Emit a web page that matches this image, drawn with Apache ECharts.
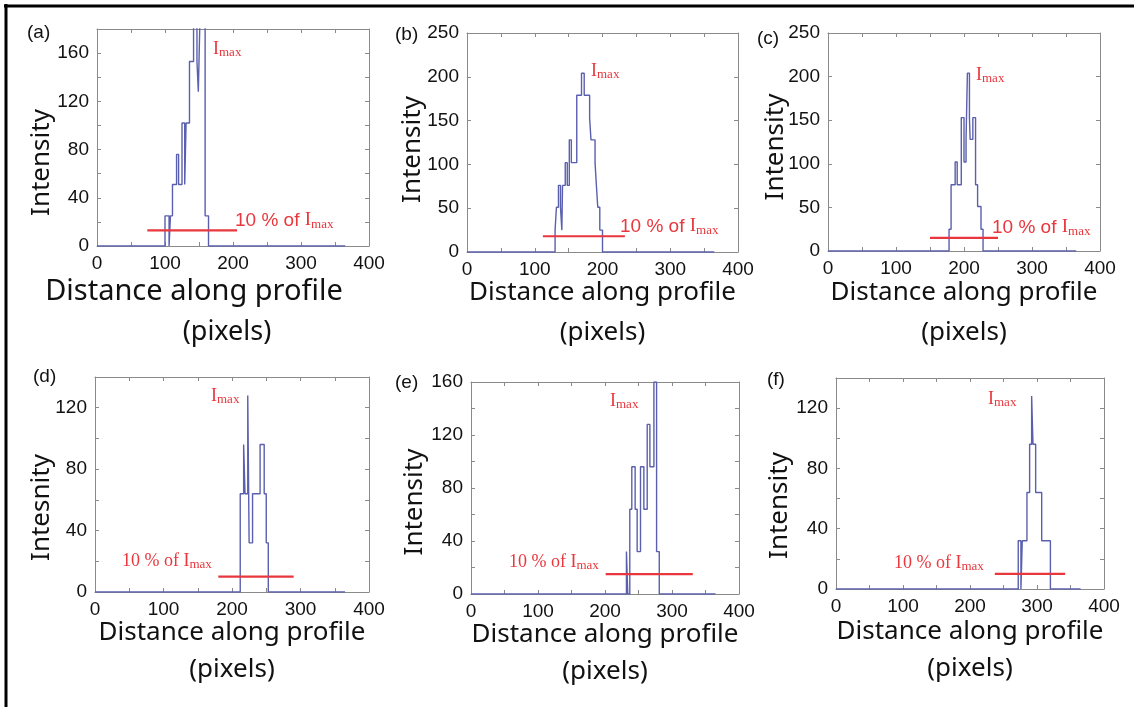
<!DOCTYPE html>
<html lang="en">
<head>
<meta charset="UTF-8">
<title>Intensity profiles</title>
<script src="https://cdn.jsdelivr.net/npm/echarts@6/dist/echarts.min.js"></script>
<style>html,body{margin:0;padding:0;background:#fff}</style>
</head>
<body>
<div id="main" style="width:1134px;height:707px"></div>
<script>
// step profiles, [distance, intensity] corner points
var profileA = [[0,0],[100,0],[100,25],[106,25],[106,0],[108,0],[108,25],[111,25],[111,51],[117,51],[117,76],[120,76],[120,51],[125,51],[125,102],[129,102],[129,51],[131,51],[131,102],[136,102],[136,153],[142,153],[142,204],[147,204],[147,153],[149,153],[149,128],[150,128],[150,153],[152,153],[152,204],[159,204],[159,25],[164,25],[164,0],[365,0]];
var profileB = [[0,0],[130,0],[130,25],[132,25],[132,51],[135,51],[135,76],[138,76],[138,51],[140,51],[140,25],[141,25],[141,76],[145,76],[145,102],[148,102],[148,76],[151,76],[151,128],[154,128],[154,102],[162,102],[162,179],[169,179],[169,204],[173,204],[173,179],[181,179],[181,153],[183,153],[183,128],[189,128],[189,102],[191,102],[191,76],[193,76],[193,51],[196,51],[196,25],[200,25],[200,0],[365,0]];
var profileC = [[0,0],[178,0],[178,25],[181,25],[181,76],[187,76],[187,102],[190,102],[190,76],[196,76],[196,153],[200,153],[200,102],[203,102],[203,128],[205,128],[205,204],[208,204],[208,153],[209,153],[209,128],[213,128],[213,153],[217,153],[217,76],[220,76],[220,51],[225,51],[225,25],[228,25],[228,0],[365,0]];
var profileD = [[0,0],[212,0],[212,64],[217,64],[217,96],[219,96],[219,64],[223,64],[223,128],[225,128],[225,32],[230,32],[230,64],[241,64],[241,96],[247,96],[247,64],[250,64],[250,32],[253,32],[253,0],[365,0]];
var profileE = [[0,0],[232,0],[232,32],[234,32],[234,0],[237,0],[237,64],[240,64],[240,96],[245,96],[245,64],[248,64],[248,32],[253,32],[253,96],[258,96],[258,64],[263,64],[263,128],[267,128],[267,96],[273,96],[273,160],[277,160],[277,32],[281,32],[281,0],[365,0]];
var profileF = [[0,0],[272,0],[272,32],[276,32],[276,0],[278,0],[278,32],[285,32],[285,64],[289,64],[289,96],[292,96],[292,128],[294,128],[294,96],[298,96],[298,64],[307,64],[307,32],[320,32],[320,0],[365,0]];

// red "10 % of Imax" lines
var cutA = [[74,13],[206,13]];
var cutB = [[112,18],[233,18]];
var cutC = [[150,15],[250,15]];
var cutD = [[180,10],[290,10]];
var cutE = [[201,15],[331,15]];
var cutF = [[237,10],[342,10]];

var yMaxList = [180, 250, 250, 140, 160, 140];
var yTickStep = [20, 50, 50, 20, 20, 20];
var yLabelStep = [40, 50, 50, 40, 40, 40];
var xMax = 400, xTickStep = 50, xLabelStep = 100;
var yNames = ['Intensity', 'Intensity', 'Intensity', 'Intesnity', 'Intensity', 'Intensity'];
var xName = 'Distance along profile';
var xUnit = '(pixels)';
var panelTags = ['(a)', '(b)', '(c)', '(d)', '(e)', '(f)'];

var profiles = [profileA, profileB, profileC, profileD, profileE, profileF];
var cuts = [cutA, cutB, cutC, cutD, cutE, cutF];

var chart = echarts.init(document.getElementById('main'));

var grids = [
    {left: 97, top: 29, width: 272, height: 217},
    {left: 467, top: 33, width: 271, height: 219},
    {left: 828, top: 33, width: 272, height: 218},
    {left: 95, top: 377, width: 274, height: 215},
    {left: 471, top: 382, width: 268, height: 212},
    {left: 836, top: 378, width: 268, height: 211}
];
// per panel: y name gap / shift, x name gap and line height
var yNameGap = [42, 41, 39, 40, 43, 43];
var yNameShift = [50, 14, 10, 46, 28, 44];
var xNameGap = [26, 21, 22, 22, 22, 24];
var xNameLine = [40, 40, 40, 37, 37, 37];

var axisGrey = '#8a8a8a';
var blue = '#5a5fae';
var red = '#e8373d';

var xAxes = [], yAxes = [], series = [];
grids.forEach(function (g, i) {
    var big = i === 0;
    xAxes.push({
        type: 'value', gridIndex: i, min: 0, max: xMax, interval: xTickStep, position: 'bottom',
        axisLine: {onZero: false, lineStyle: {color: axisGrey, width: 1}},
        axisTick: {inside: true, length: 4, lineStyle: {color: axisGrey}},
        axisLabel: {
            margin: 8, color: '#111', fontFamily: 'Liberation Sans', fontSize: 19,
            formatter: function (v) { return v % xLabelStep === 0 ? String(v) : ''; }
        },
        splitLine: {show: false},
        name: big ? '{l1|' + xName + '}\n{l2|' + xUnit + '}' : xName + '\n' + xUnit,
        nameLocation: 'middle', nameGap: xNameGap[i], nameMoveOverlap: false,
        nameTextStyle: big ? {
            fontFamily: 'Noto Sans', color: '#111', lineHeight: 40, padding: [0, 78, 0, 0],
            rich: {
                l1: {fontFamily: 'Noto Sans', fontSize: 29, lineHeight: 40, color: '#111'},
                l2: {fontFamily: 'Noto Sans', fontSize: 27, lineHeight: 40, color: '#111', padding: [0, 0, 0, 66]}
            }
        } : {fontFamily: 'Noto Sans', fontSize: 26, lineHeight: xNameLine[i], color: '#111'}
    });
    xAxes.push({
        type: 'value', gridIndex: i, min: 0, max: xMax, interval: xTickStep, position: 'top',
        axisLine: {onZero: false, lineStyle: {color: axisGrey}},
        axisTick: {inside: true, length: 4, lineStyle: {color: axisGrey}},
        axisLabel: {show: false}, splitLine: {show: false}
    });
    yAxes.push({
        type: 'value', gridIndex: i, min: 0, max: yMaxList[i], interval: yTickStep[i], position: 'left',
        axisLine: {show: true, onZero: false, lineStyle: {color: axisGrey}},
        axisTick: {show: true, inside: true, length: 4, lineStyle: {color: axisGrey}},
        axisLabel: {
            margin: 8, color: '#111', fontFamily: 'Liberation Sans', fontSize: 19,
            formatter: (function (step) {
                return function (v) { return v % step === 0 ? String(v) : ''; };
            })(yLabelStep[i])
        },
        splitLine: {show: false},
        name: yNames[i], nameLocation: 'middle', nameGap: yNameGap[i], nameMoveOverlap: false,
        nameTextStyle: {fontFamily: 'Noto Sans', fontSize: 26, color: '#111', padding: [0, yNameShift[i], 0, 0]}
    });
    yAxes.push({
        type: 'value', gridIndex: i, min: 0, max: yMaxList[i], interval: yTickStep[i], position: 'right',
        axisLine: {show: true, onZero: false, lineStyle: {color: axisGrey}},
        axisTick: {show: true, inside: true, length: 4, lineStyle: {color: axisGrey}},
        axisLabel: {show: false}, splitLine: {show: false}
    });
    series.push({
        type: 'line', xAxisIndex: 2 * i, yAxisIndex: 2 * i, data: profiles[i],
        showSymbol: false, symbol: 'none', clip: true,
        lineStyle: {color: blue, width: 1.4}, z: 3
    });
    series.push({
        type: 'line', xAxisIndex: 2 * i, yAxisIndex: 2 * i, data: cuts[i],
        showSymbol: false, symbol: 'none',
        lineStyle: {color: red, width: 2.2}, z: 4
    });
});

// annotation texts
var sansRich = {
    t: {fontFamily: 'Liberation Sans', fontSize: 19, fill: red, verticalAlign: 'top', lineHeight: 20, padding: [0, 0, 3, 0]},
    i: {fontFamily: 'Liberation Serif', fontSize: 19, fill: red, verticalAlign: 'top', lineHeight: 20, padding: [0, 0, 3, 0]},
    s: {fontFamily: 'Liberation Serif', fontSize: 13, fill: red, verticalAlign: 'bottom', lineHeight: 13}
};
var serifRich = {
    t: {fontFamily: 'Liberation Serif', fontSize: 18, fill: red, verticalAlign: 'top', lineHeight: 19, padding: [0, 0, 3, 0]},
    i: {fontFamily: 'Liberation Serif', fontSize: 18, fill: red, verticalAlign: 'top', lineHeight: 19, padding: [0, 0, 3, 0]},
    s: {fontFamily: 'Liberation Serif', fontSize: 13, fill: red, verticalAlign: 'bottom', lineHeight: 13}
};
var imaxPos = [[213, 50], [591, 72], [976, 76], [211, 397], [610, 402], [988, 400]];
var cutTextPos = [[235, 221], [620, 227], [992, 228], [122, 562], [509, 563], [894, 564]];
var tagPos = [[27, 33], [395, 35], [757, 39], [33, 377], [395, 383], [767, 380]];

var graphics = [
    {type: 'line', shape: {x1: 4, y1: 6, x2: 1134, y2: 6}, style: {stroke: '#000', lineWidth: 3}},
    {type: 'line', shape: {x1: 6, y1: 4, x2: 6, y2: 707}, style: {stroke: '#000', lineWidth: 3}}
];
for (var k = 0; k < 6; k++) {
    var rich = k < 3 ? sansRich : serifRich;
    graphics.push({
        type: 'text', x: imaxPos[k][0], y: imaxPos[k][1],
        style: {text: '{i|I}{s|max}', rich: serifRich, fill: red, verticalAlign: 'middle', align: 'left'}
    });
    graphics.push({
        type: 'text', x: cutTextPos[k][0], y: cutTextPos[k][1],
        style: {text: '{t|10 % of }{i|I}{s|max}', rich: rich, fill: red, verticalAlign: 'middle', align: 'left'}
    });
    graphics.push({
        type: 'text', x: tagPos[k][0], y: tagPos[k][1],
        style: {text: panelTags[k], fontFamily: 'Liberation Sans', fontSize: 19, fill: '#111', verticalAlign: 'middle', align: 'left'}
    });
}

chart.setOption({
    animation: false,
    backgroundColor: '#fff',
    grid: grids,
    xAxis: xAxes,
    yAxis: yAxes,
    series: series,
    graphic: graphics
});
</script>
</body>
</html>
